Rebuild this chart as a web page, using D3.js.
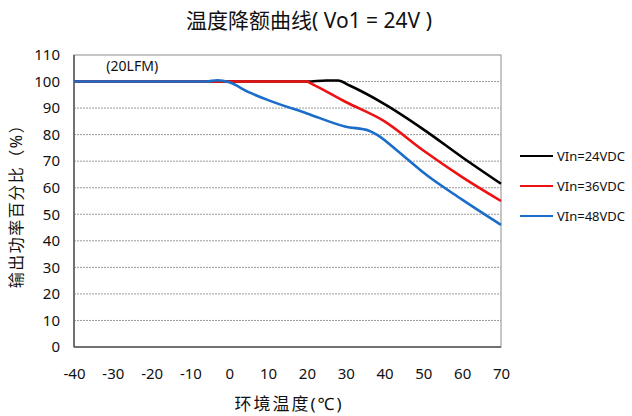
<!DOCTYPE html>
<html>
<head>
<meta charset="utf-8">
<script src="https://cdn.jsdelivr.net/npm/d3@7"></script>
<style>
  body { margin: 0; background: #fff; }
  svg text { font-family: "Noto Sans", "Noto Sans CJK SC", sans-serif; fill: #111; }
</style>
</head>
<body>
<div id="chart"></div>
<script>
(function (d3) {
  'use strict';

  // data
  var xTicks = [-40, -30, -20, -10, 0, 10, 20, 30, 40, 50, 60, 70];
  var yTicks = [0, 10, 20, 30, 40, 50, 60, 70, 80, 90, 100, 110];
  var seriesNames = ["VIn=24VDC", "VIn=36VDC", "VIn=48VDC"];
  var seriesColors = ["#000000", "#ee1111", "#1a6dc9"];

  var vin24 = [[-40, 100], [20, 100], [25, 100.4], [28, 100.4], [31, 98.5], [40, 91.5], [50, 82], [60, 71.5], [70, 61.5]];
  var vin36 = [[-40, 100], [20, 100], [21, 99.3], [30, 92.3], [40, 85], [50, 74], [60, 64], [70, 55]];
  var vin48 = [[-40, 100], [-6, 100], [-3, 100.5], [0, 99.7], [5, 96], [10, 93], [20, 88], [30, 83], [36, 81.5], [38, 80], [43, 74.3], [46, 70.6], [50, 65.7], [60, 55.5], [70, 46]];

  var series = [vin24, vin36, vin48];

  var width = 632, height = 416;
  var margin = { top: 55, right: 131, bottom: 69, left: 74 };
  var innerWidth = width - margin.left - margin.right;
  var innerHeight = height - margin.top - margin.bottom;

  var svg = d3.select("#chart").append("svg").attr("width", width).attr("height", height);
  var g = svg.append("g").attr("transform", "translate(" + margin.left + "," + margin.top + ")");

  var xScale = d3.scaleLinear().domain([-40, 70]).range([0, innerWidth]);
  var yScale = d3.scaleLinear().domain([0, 110]).range([innerHeight, 0]);

  // grid lines
  g.selectAll("line.grid").data(yTicks.filter(function (v) { return v > 0 && v < 110; }))
    .enter().append("line").attr("class", "grid")
    .attr("x1", 0).attr("x2", innerWidth)
    .attr("y1", function (d) { return yScale(d); }).attr("y2", function (d) { return yScale(d); })
    .attr("stroke", "#9a9a9a").attr("stroke-width", 1).attr("stroke-dasharray", "2,1");

  // frame
  g.append("rect").attr("x", 0).attr("y", 0).attr("width", innerWidth).attr("height", innerHeight)
    .attr("fill", "none").attr("stroke", "#a0a0a0").attr("stroke-width", 1.2);
  g.append("line").attr("x1", 0).attr("x2", 0).attr("y1", 0).attr("y2", innerHeight)
    .attr("stroke", "#555").attr("stroke-width", 1.5);
  g.append("line").attr("x1", 0).attr("x2", innerWidth).attr("y1", innerHeight).attr("y2", innerHeight)
    .attr("stroke", "#555").attr("stroke-width", 1.5);

  // axes (plain hyphen for negatives, like the original)
  var xAxisG = g.append("g").attr("transform", "translate(0," + innerHeight + ")")
    .call(d3.axisBottom(xScale).tickValues(xTicks).tickSize(0).tickPadding(21)
      .tickFormat(function (d) { return String(d); }));
  xAxisG.select(".domain").remove();
  xAxisG.selectAll("text").attr("font-size", "15px");

  var yAxisG = g.append("g")
    .call(d3.axisLeft(yScale).tickValues(yTicks).tickSize(0).tickPadding(14)
      .tickFormat(function (d) { return String(d); }));
  yAxisG.select(".domain").remove();
  yAxisG.selectAll("text").attr("font-size", "15px");

  // lines
  var line = d3.line()
    .x(function (d) { return xScale(d[0]); })
    .y(function (d) { return yScale(d[1]); })
    .curve(d3.curveMonotoneX);

  g.selectAll("path.series").data(series).enter().append("path").attr("class", "series")
    .attr("d", line)
    .attr("fill", "none")
    .attr("stroke", function (d, i) { return seriesColors[i]; })
    .attr("stroke-width", 2.6)
    .attr("stroke-linejoin", "round");

  g.append("text").attr("x", xScale(-25)).attr("y", yScale(104)).attr("text-anchor", "middle")
    .attr("font-size", "14px").text("(20LFM)");

  // legend
  var legend = svg.append("g").attr("transform", "translate(520,156)");
  var items = legend.selectAll("g").data(seriesNames).enter().append("g")
    .attr("transform", function (d, i) { return "translate(0," + i * 30 + ")"; });
  items.append("line").attr("x1", 0).attr("x2", 33).attr("y1", 0).attr("y2", 0)
    .attr("stroke", function (d, i) { return seriesColors[i]; }).attr("stroke-width", 2);
  items.append("text").attr("x", 37).attr("y", 5).attr("font-size", "13px").text(function (d) { return d; });

  // titles
  svg.append("text").attr("x", 309).attr("y", 28).attr("text-anchor", "middle")
    .attr("font-size", "21px").text("温度降额曲线( Vo1 = 24V )");
  svg.append("text").attr("x", 289).attr("y", 410).attr("text-anchor", "middle")
    .attr("font-size", "17px").attr("letter-spacing", "2px").text("环境温度(℃)");
  svg.append("text").attr("transform", "translate(22,202) rotate(-90)").attr("text-anchor", "middle")
    .attr("font-size", "16px").attr("letter-spacing", "1.5px").text("输出功率百分比（%）");
})(d3);
</script>
</body>
</html>
